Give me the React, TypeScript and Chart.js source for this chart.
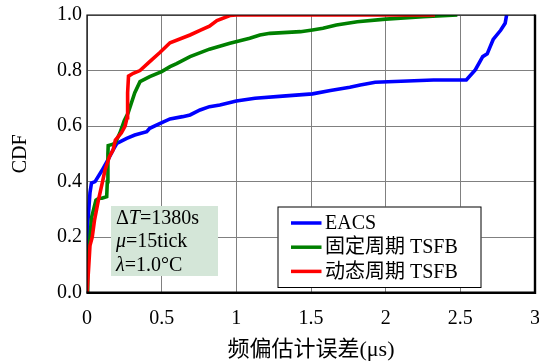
import { useEffect, useRef } from "react";
import { Chart, registerables } from "chart.js";

Chart.register(...registerables);

// Series names and colours
const seriesNames = ["EACS", "固定周期 TSFB", "动态周期 TSFB"];
const seriesColors = ["#0000ff", "#008000", "#ff0000"];

// EACS empirical CDF
const eacsX = [0, 0.002, 0.005, 0.012, 0.02, 0.03, 0.054, 0.1, 0.14, 0.175, 0.2, 0.266, 0.32, 0.4, 0.42, 0.49, 0.556, 0.64, 0.69, 0.757, 0.82, 0.89, 1.0, 1.125, 1.31, 1.51, 1.63, 1.76, 1.83, 1.93, 2.32, 2.54, 2.58, 2.6, 2.65, 2.68, 2.7, 2.72, 2.77, 2.8, 2.81];
const eacsY = [0.14, 0.2, 0.24, 0.3, 0.36, 0.395, 0.4, 0.44, 0.478, 0.514, 0.538, 0.556, 0.568, 0.58, 0.592, 0.61, 0.626, 0.634, 0.64, 0.658, 0.67, 0.676, 0.69, 0.7, 0.708, 0.716, 0.728, 0.74, 0.748, 0.758, 0.766, 0.766, 0.79, 0.802, 0.85, 0.86, 0.886, 0.912, 0.945, 0.97, 1.0];

// Fixed-period TSFB empirical CDF
const fixedX = [0, 0.005, 0.02, 0.03, 0.06, 0.08, 0.1, 0.132, 0.136, 0.14, 0.142, 0.175, 0.19, 0.22, 0.25, 0.275, 0.32, 0.355, 0.42, 0.5, 0.556, 0.6, 0.69, 0.82, 0.957, 1.09, 1.158, 1.225, 1.43, 1.51, 1.58, 1.67, 1.81, 2.0, 2.25, 2.48];
const fixedY = [0, 0.1, 0.2, 0.27, 0.333, 0.34, 0.34, 0.346, 0.4, 0.5, 0.53, 0.535, 0.54, 0.575, 0.62, 0.647, 0.72, 0.76, 0.778, 0.796, 0.814, 0.825, 0.85, 0.877, 0.898, 0.916, 0.928, 0.934, 0.94, 0.946, 0.952, 0.964, 0.976, 0.985, 0.994, 1.0];

// Dynamic-period TSFB empirical CDF
const dynamicX = [0, 0.01, 0.02, 0.035, 0.05, 0.075, 0.1, 0.12, 0.15, 0.175, 0.19, 0.23, 0.255, 0.268, 0.272, 0.278, 0.31, 0.355, 0.42, 0.49, 0.556, 0.69, 0.757, 0.82, 0.87, 0.957, 1.0, 2.33];
const dynamicY = [0, 0.08, 0.17, 0.2, 0.26, 0.33, 0.39, 0.44, 0.49, 0.514, 0.55, 0.575, 0.6, 0.63, 0.72, 0.78, 0.79, 0.8, 0.832, 0.866, 0.9, 0.928, 0.945, 0.96, 0.98, 0.998, 1.0, 1.0];

// Axis ticks and titles
const xTicks = [0, 0.5, 1, 1.5, 2, 2.5, 3];
const yTicks = [0, 0.2, 0.4, 0.6, 0.8, 1.0];
const xTitle = "频偏估计误差(μs)";
const yTitle = "CDF";

// Parameter note: each line is a list of [text, italic] runs
const noteLines: [string, boolean][][] = [
  [["Δ", false], ["T", true], ["=1380s", false]],
  [["μ", true], ["=15tick", false]],
  [["λ", true], ["=1.0°C", false]],
];

const SERIF = '"Liberation Serif", "Noto Sans CJK SC", serif';

const overlayPlugin = {
  id: "overlay",
  afterDatasetsDraw(chart: any) {
    const { ctx, chartArea: a } = chart;
    ctx.save();

    // plot frame
    ctx.strokeStyle = "#000";
    ctx.lineWidth = 1.2;
    ctx.beginPath();
    ctx.moveTo(a.left, a.bottom);
    ctx.lineTo(a.left, a.top);
    ctx.lineTo(a.right, a.top);
    ctx.stroke();
    ctx.lineWidth = 2.4;
    ctx.beginPath();
    ctx.moveTo(a.left - 0.6, a.bottom);
    ctx.lineTo(a.right, a.bottom);
    ctx.lineTo(a.right, a.top - 0.6);
    ctx.stroke();

    // parameter note box
    const nx = a.left + 24;
    const ny = a.top + 191;
    ctx.fillStyle = "#d4e6d8";
    ctx.fillRect(nx, ny, 107, 70);
    ctx.fillStyle = "#000";
    ctx.textBaseline = "middle";
    const noteRows = [ny + 12.5, ny + 36, ny + 60];
    noteLines.forEach((runs, i) => {
      let x = nx + 5;
      runs.forEach(([text, italic]) => {
        ctx.font = `${italic ? "italic " : ""}20px ${SERIF}`;
        ctx.fillText(text, x, noteRows[i]);
        x += ctx.measureText(text).width;
      });
    });

    // legend box
    const lx = a.right - 257.5;
    const ly = a.top + 191.5;
    const lw = 204;
    const lh = 81.5;
    ctx.fillStyle = "#fff";
    ctx.fillRect(lx, ly, lw, lh);
    ctx.strokeStyle = "#000";
    ctx.lineWidth = 1;
    ctx.strokeRect(lx + 0.5, ly + 0.5, lw - 1, lh - 1);
    ctx.font = `20px ${SERIF}`;
    chart.data.datasets.forEach((ds: any, i: number) => {
      const cy = ly + 16.5 + i * 24.2;
      ctx.strokeStyle = ds.borderColor;
      ctx.lineWidth = 3.5;
      ctx.beginPath();
      ctx.moveTo(lx + 13.5, cy);
      ctx.lineTo(lx + 44, cy);
      ctx.stroke();
      ctx.fillStyle = "#000";
      ctx.fillText(ds.label, lx + 47.5, cy + 1);
    });

    ctx.restore();
  },
};

export default function App() {
  const canvasRef = useRef<HTMLCanvasElement>(null);

  useEffect(() => {
    document.body.style.margin = "0";
    const canvas = canvasRef.current;
    if (!canvas) return;

    const series = [
      { xs: eacsX, ys: eacsY },
      { xs: fixedX, ys: fixedY },
      { xs: dynamicX, ys: dynamicY },
    ];

    const tickFont = { family: SERIF, size: 20 };
    const gridColor = "#808080";

    const chart = new Chart(canvas, {
      type: "line",
      data: {
        datasets: series.map((s, i) => ({
          label: seriesNames[i],
          data: s.xs.map((x, k) => ({ x, y: s.ys[k] })),
          borderColor: seriesColors[i],
          backgroundColor: seriesColors[i],
          borderWidth: 3.6,
          pointRadius: 0,
          tension: 0,
          fill: false,
          order: 2 - i,
        })),
      },
      options: {
        responsive: false,
        animation: false,
        events: [],
        layout: { padding: { top: 15, right: 4, left: 0, bottom: 0 } },
        plugins: {
          legend: { display: false },
          tooltip: { enabled: false },
        },
        scales: {
          x: {
            type: "linear",
            min: 0,
            max: 3,
            afterBuildTicks: (scale: any) => {
              scale.ticks = xTicks.map((v) => ({ value: v }));
            },
            afterFit: (scale: any) => {
              scale.height = 68.3;
              scale.paddingLeft = 0;
              scale.paddingRight = 0;
            },
            ticks: {
              font: tickFont,
              color: "#000",
              padding: 14,
              maxRotation: 0,
              autoSkip: false,
              callback: (v: any) => String(v),
            },
            grid: { color: gridColor, lineWidth: 1, drawTicks: false },
            border: { display: false },
            title: {
              display: true,
              text: xTitle,
              color: "#000",
              font: { family: SERIF, size: 22 },
              padding: { top: 0, bottom: -2 },
            },
          },
          y: {
            type: "linear",
            min: 0,
            max: 1,
            afterBuildTicks: (scale: any) => {
              scale.ticks = yTicks.map((v) => ({ value: v }));
            },
            afterFit: (scale: any) => {
              scale.width = 87;
              scale.paddingTop = 0;
              scale.paddingBottom = 0;
            },
            ticks: {
              font: tickFont,
              color: "#000",
              padding: 5,
              callback: (v: any) => Number(v).toFixed(1),
            },
            grid: { color: gridColor, lineWidth: 1, drawTicks: false },
            border: { display: false },
            title: {
              display: true,
              text: yTitle,
              color: "#000",
              font: { family: SERIF, size: 20 },
              padding: { top: 9, bottom: 0 },
            },
          },
        },
      },
      plugins: [overlayPlugin],
    });

    return () => chart.destroy();
  }, []);

  return (
    <div style={{ position: "absolute", left: 0, top: 0, width: 539, height: 361, background: "#fff" }}>
      <canvas ref={canvasRef} width={539} height={361} />
    </div>
  );
}
